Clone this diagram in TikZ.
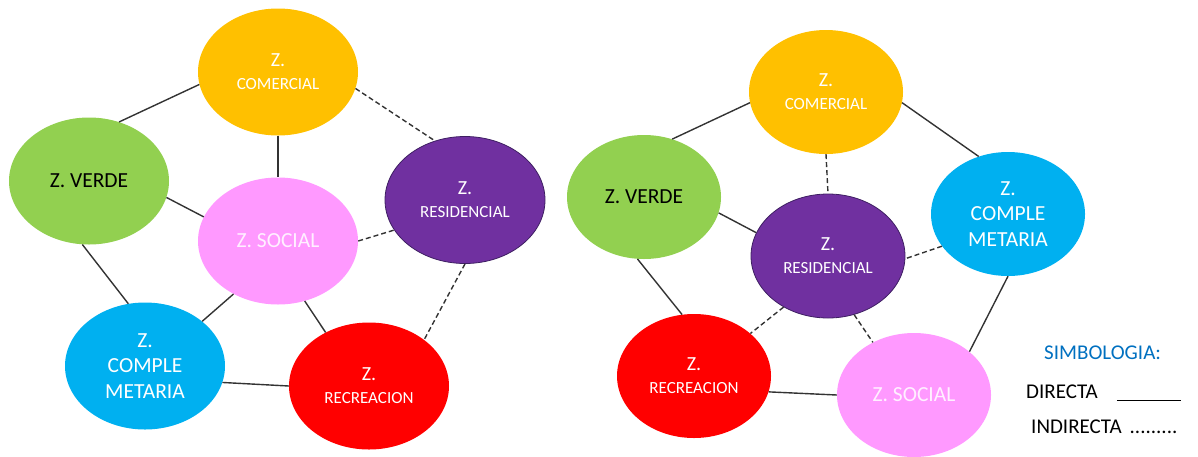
\documentclass[tikz,border=0pt]{standalone}
\usepackage{fontspec}
\setmainfont{Carlito}
\usetikzlibrary{shapes.geometric}
\definecolor{cComercial}{HTML}{FFC000}
\definecolor{cVerde}{HTML}{92D050}
\definecolor{cSocial}{HTML}{FF99FF}
\definecolor{cResid}{HTML}{7030A0}
\definecolor{cResidB}{HTML}{3E1F62}
\definecolor{cCompl}{HTML}{00B0F0}
\definecolor{cRecre}{HTML}{FF0000}
\definecolor{cLine}{HTML}{333333}
\definecolor{cBlue}{HTML}{0070C0}
\newcommand\zbig{\fontsize{20}{23}\selectfont}
\newcommand\zsml{\fontsize{17}{23}\selectfont}
\newcommand\zmid{\fontsize{21.5}{25.5}\selectfont}
\tikzset{
  zone/.style={ellipse, inner sep=0pt, align=center, text=white, font=\zsml},
  zl/.style={zone, minimum width=160pt, minimum height=127pt},
  zr/.style={zone, minimum width=154pt, minimum height=124pt},
  direct/.style={draw=cLine, line width=1.4pt},
  indirect/.style={draw=cLine, line width=1.4pt, dash pattern=on 5pt off 3pt},
  legend/.style={anchor=west, inner sep=0pt, font=\fontsize{21}{24}\selectfont}
}
\begin{document}
\begin{tikzpicture}[x=1pt,y=-1pt]
\useasboundingbox (0,0) rectangle (1198,456);
% ---------- left diagram ----------
\node[zl, fill=cComercial] (lcom) at (278,72) {{\zbig Z.}\\COMERCIAL};
\node[zl, fill=cVerde, text=black, font=\zmid] (lver) at (89,181) {Z. VERDE};
\node[zl, fill=cSocial, text=white!85!cSocial, font=\zmid] (lsoc) at (278,241) {Z. SOCIAL};
\node[zl, fill=cResid, draw=cResidB, line width=0.8pt] (lres) at (465,200) {{\zbig Z.}\\RESIDENCIAL};
\node[zl, fill=cCompl, font=\zmid] (lcpl) at (145,366) {Z.\\COMPLE\\METARIA};
\node[zl, fill=cRecre] (lrec) at (369,386) {{\zbig Z.}\\RECREACION};

\draw[direct] (lver.63) -- (lcom.189);
\draw[direct] (lcom.270) -- (lsoc.90);
\draw[indirect] (lcom.-12) -- (lres.117);
\draw[direct] (lver.-12) -- (lsoc.162);
\draw[indirect] (lsoc.0) -- (lres.203);
\draw[direct] (lver.264) -- (lcpl.105);
\draw[direct] (lsoc.230) -- (lcpl.38);
\draw[direct] (lsoc.-66) -- (lrec.129);
\draw[indirect] (lres.270) -- (lrec.40);
\draw[direct] (lcpl.-12) -- (lrec.180);

% ---------- right diagram ----------
\node[zr, fill=cComercial] (rcom) at (826,92) {{\zbig Z.}\\COMERCIAL};
\node[zr, fill=cVerde, text=black, font=\zmid] (rver) at (644,197) {Z. VERDE};
\node[zr, fill=cResid, draw=cResidB, line width=0.8pt] (rres) at (828,256) {{\zbig Z.}\\RESIDENCIAL};
\node[zr, fill=cCompl, font=\zmid] (rcpl) at (1008,214) {Z.\\COMPLE\\METARIA};
\node[zr, fill=cRecre] (rrec) at (694,376) {{\zbig Z.}\\RECREACION};
\node[zr, fill=cSocial, text=white!85!cSocial, font=\zmid] (rsoc) at (914,395) {Z. SOCIAL};

\draw[direct] (rver.64) -- (rcom.188);
\draw[direct] (rcom.-8) -- (rcpl.117);
\draw[indirect] (rcom.270) -- (rres.90);
\draw[direct] (rver.-12) -- (rres.162);
\draw[indirect] (rcpl.206) -- (rres.-2);
\draw[direct] (rver.264) -- (rrec.101);
\draw[indirect] (rres.229) -- (rrec.37);
\draw[indirect] (rres.-66) -- (rsoc.128);
\draw[direct] (rcpl.270) -- (rsoc.38);
\draw[direct] (rrec.-12) -- (rsoc.180);

% ---------- legend ----------
\node[legend, text=cBlue] (simb) at (1044,353) {SIMBOLOGIA:};
\node[legend] (dir) at (1026,393) {DIRECTA\hspace{19pt}\rule[-2pt]{64pt}{1.2pt}};
\node[legend] (ind) at (1031,427) {INDIRECTA\hspace{8pt}.........};
\end{tikzpicture}
\end{document}
